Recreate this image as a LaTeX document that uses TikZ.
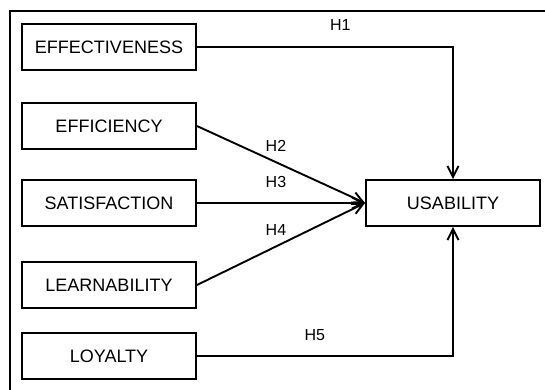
\documentclass[tikz,border=0pt]{standalone}
\usepackage{fontspec}
\setmainfont{Liberation Sans}
\usetikzlibrary{arrows.meta}

\begin{document}
\begin{tikzpicture}[x=1pt,y=-1pt,line width=1.9pt,
    >={Straight Barb[length=11pt,width=11pt,line join=miter]}]

  \useasboundingbox (0,0) rectangle (545,390);
  % frame
  \draw (10,390) -- (10,11) -- (545,11);

  \begin{scope}[every node/.style={draw,minimum width=174pt,minimum height=46pt,
      inner sep=0pt,font=\fontsize{18}{21}\selectfont}]
    \node (eff)  at (109,47)  {EFFECTIVENESS};
    \node (effi) at (109,126) {EFFICIENCY};
    \node (sat)  at (109,203) {SATISFACTION};
    \node (lea)  at (109,285) {LEARNABILITY};
    \node (loy)  at (109,356) {LOYALTY};
    \node (usa)  at (453,203) {USABILITY};
  \end{scope}

  \begin{scope}[every node/.style={font=\fontsize{16}{19}\selectfont,inner sep=0pt}]
    \draw[->] (eff)  -| node[pos=0.28,above=16pt] {H1} (usa);
    \draw[->] (effi.east) -- node[pos=0.47,above=10pt] {H2} (usa.west);
    \draw[->] (sat)  -- node[pos=0.47,above=14pt] {H3} (usa);
    \draw[->] (lea.east) -- node[pos=0.47,above=10pt] {H4} (usa.west);
    \draw[->] (loy)  -| node[pos=0.23,above=14pt] {H5} (usa);
  \end{scope}

\end{tikzpicture}
\end{document}
